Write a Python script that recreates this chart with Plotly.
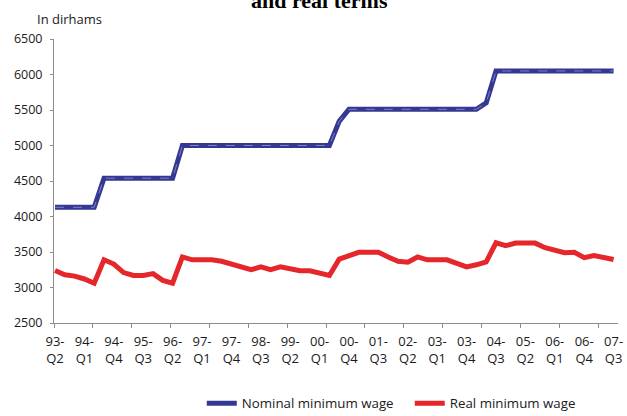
import plotly.graph_objects as go

# Categories: quarters 93-Q2 .. 07-Q3
quarters = []
for yr in range(1993, 2008):
    for q in range(1, 5):
        if (yr == 1993 and q < 2) or (yr == 2007 and q > 3):
            continue
        quarters.append(f"{str(yr)[2:]}-Q{q}")

nominal_wage = [4130, 4130, 4130, 4130, 4130, 4540, 4540, 4540, 4540, 4540,
                4540, 4540, 4540, 5000, 5000, 5000, 5000, 5000, 5000, 5000,
                5000, 5000, 5000, 5000, 5000, 5000, 5000, 5000, 5000, 5340,
                5510, 5510, 5510, 5510, 5510, 5510, 5510, 5510, 5510, 5510,
                5510, 5510, 5510, 5510, 5600, 6050, 6050, 6050, 6050, 6050,
                6050, 6050, 6050, 6050, 6050, 6050, 6050, 6050]

real_wage = [3240, 3180, 3160, 3120, 3060, 3390, 3330, 3210, 3170, 3170,
             3195, 3100, 3060, 3430, 3390, 3390, 3390, 3370, 3330, 3280,
             3250, 3290, 3250, 3290, 3255, 3235, 3235, 3195, 3170, 3400,
             3440, 3495, 3495, 3495, 3430, 3370, 3355, 3430, 3390, 3390,
             3390, 3340, 3290, 3320, 3360, 3630, 3590, 3625, 3625, 3625,
             3560, 3530, 3490, 3495, 3420, 3450, 3430, 3395]

tick_labels = ["93-Q2", "94-Q1", "94-Q4", "95-Q3", "96-Q2", "97-Q1", "97-Q4",
               "98-Q3", "99-Q2", "00-Q1", "00-Q4", "01-Q3", "02-Q2", "03-Q1",
               "03-Q4", "04-Q3", "05-Q2", "06-Q1", "06-Q4", "07-Q3"]

BLUE = "#343893"
RED = "#E5262B"
AXIS = "#8c8c8c"
FONT = "Open Sans"

fig = go.Figure()
fig.add_trace(go.Scatter(x=quarters, y=nominal_wage, mode="lines",
                         name="Nominal minimum wage",
                         line=dict(color=BLUE, width=5)))
fig.add_trace(go.Scatter(x=quarters, y=nominal_wage, mode="lines",
                         showlegend=False, hoverinfo="skip",
                         line=dict(color="#7f82c2", width=1, dash="dash")))
fig.add_trace(go.Scatter(x=quarters, y=real_wage, mode="lines",
                         name="Real minimum wage",
                         line=dict(color=RED, width=5)))
# helper trace for yearly tick marks axis
fig.add_trace(go.Scatter(x=[None], y=[None], xaxis="x2", showlegend=False,
                         hoverinfo="skip"))

fig.update_layout(
    width=627, height=416,
    margin=dict(l=54, r=9, t=39, b=93, autoexpand=False),
    paper_bgcolor="white", plot_bgcolor="white",
    font=dict(family=FONT, size=12, color="#1a1a1a"),
    showlegend=True,
    legend=dict(orientation="h", x=0.262, xanchor="left", y=-0.284,
                yanchor="middle", font=dict(size=13.3, family=FONT),
                entrywidth=163, entrywidthmode="pixels",
                bgcolor="rgba(0,0,0,0)"),
    xaxis=dict(type="category", categoryorder="array", categoryarray=quarters,
               range=[-0.102, 57.45], showline=True, linecolor=AXIS,
               linewidth=1, ticks="", showgrid=False, zeroline=False,
               automargin=False,
               tickmode="array", tickvals=tick_labels,
               ticktext=[t.replace("-", "-<br>") for t in tick_labels],
               tickfont=dict(size=13), tickangle=0, ticklabelstandoff=6),
    xaxis2=dict(overlaying="x", type="linear", range=[0, 14.513],
                tickmode="array", tickvals=list(range(15)), ticks="outside",
                ticklen=4, tickcolor=AXIS, tickwidth=1, showticklabels=False,
                showline=False, showgrid=False, zeroline=False, side="bottom",
                anchor="y", automargin=False),
    yaxis=dict(range=[2500, 6500], tickmode="linear", tick0=2500, dtick=500,
               showline=True, linecolor=AXIS, linewidth=1, ticks="outside",
               ticklen=3, tickcolor=AXIS, showgrid=False, zeroline=False,
               automargin=False, ticklabelstandoff=5,
               tickfont=dict(size=12.5)),
    annotations=[
        dict(text="In dirhams", xref="paper", yref="paper", x=-0.0337,
             y=1.0715, xanchor="left", yanchor="middle", showarrow=False,
             font=dict(size=13, family=FONT)),
        dict(text="<b>and real terms</b>", xref="paper", yref="paper",
             x=0.470, y=1.084, xanchor="center", yanchor="bottom",
             showarrow=False,
             font=dict(size=22, family="Liberation Serif", color="black")),
    ],
)

fig.write_html("out.html", config={"displayModeBar": False},
               post_script="document.body.style.margin='0';")
